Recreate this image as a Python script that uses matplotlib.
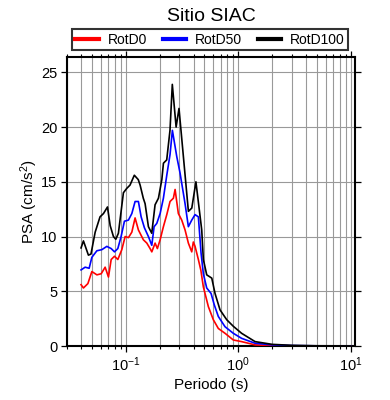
import matplotlib
matplotlib.use('Agg')
from matplotlib import pyplot as plt
from matplotlib.lines import Line2D
import numpy as np

plt.rcParams['font.family'] = ['Liberation Sans', 'DejaVu Sans']
plt.rcParams['mathtext.fontset'] = 'custom'
plt.rcParams['mathtext.rm'] = 'Liberation Sans'
plt.rcParams['mathtext.it'] = 'Liberation Sans'

# periodos (s) y PSA (cm/s^2)
per_d100 = [0.040, 0.042, 0.0465, 0.049, 0.0534, 0.059, 0.0633, 0.0687, 0.0726, 0.0776,
            0.0815, 0.0859, 0.0952, 0.102, 0.109, 0.119, 0.129, 0.134, 0.143, 0.1484,
            0.1588, 0.170, 0.182, 0.195, 0.209, 0.216, 0.231, 0.247, 0.259, 0.280,
            0.297, 0.360, 0.386, 0.420, 0.473, 0.489, 0.524, 0.581, 0.621, 0.688,
            0.789, 0.903, 1.07, 1.41, 2.0, 3.0, 5.0, 10.0]
psa_d100 = [8.96, 9.6, 8.3, 8.4, 10.4, 11.8, 12.1, 12.7, 11.0, 10.0,
            9.75, 10.3, 14.0, 14.4, 14.7, 15.6, 15.2, 14.7, 13.5, 13.0,
            10.9, 10.3, 12.9, 13.5, 15.2, 16.7, 17.0, 19.7, 23.9, 20.0,
            21.7, 12.3, 12.6, 15.0, 10.6, 7.9, 6.5, 6.2, 4.8, 3.3,
            2.4, 1.8, 1.16, 0.4, 0.15, 0.06, 0.02, 0.01]

per_d50 = [0.040, 0.0435, 0.0472, 0.0499, 0.0553, 0.0612, 0.0678, 0.0741, 0.0793, 0.0849,
           0.0908, 0.0972, 0.1055, 0.1131, 0.1209, 0.1294, 0.1368, 0.1463, 0.1588, 0.1702,
           0.1784, 0.1885, 0.2018, 0.2158, 0.2313, 0.2473, 0.2594, 0.2838, 0.3035, 0.3363,
           0.3598, 0.3855, 0.4126, 0.4415, 0.4664, 0.4889, 0.5239, 0.5725, 0.612, 0.664,
           0.762, 0.903, 1.07, 1.41, 2.0, 3.0, 5.0, 10.0]
psa_d50 = [6.95, 7.2, 7.1, 8.1, 8.7, 8.8, 9.1, 8.9, 8.6, 8.9,
           10.0, 11.4, 11.5, 12.1, 13.2, 13.2, 11.8, 10.8, 10.0, 9.2,
           10.9, 11.2, 12.1, 13.5, 15.6, 17.5, 19.7, 17.3, 15.8, 13.0,
           10.9, 11.5, 12.0, 11.8, 8.5, 6.6, 5.3, 4.8, 3.75, 2.7,
           1.76, 1.16, 0.7, 0.25, 0.1, 0.04, 0.015, 0.005]

per_d0 = [0.040, 0.042, 0.046, 0.0499, 0.0553, 0.0604, 0.0655, 0.0701, 0.0741, 0.0793,
          0.0849, 0.0921, 0.0986, 0.1055, 0.1131, 0.1209, 0.1294, 0.1433, 0.1537, 0.1643,
          0.1702, 0.1821, 0.1908, 0.2018, 0.2158, 0.2313, 0.2473, 0.2648, 0.2742, 0.2931,
          0.3142, 0.3363, 0.3598, 0.3855, 0.3983, 0.4126, 0.4415, 0.4650, 0.4889, 0.5416,
          0.5998, 0.6643, 0.762, 0.903, 1.07, 1.41, 2.0, 3.0, 5.0, 10.0]
psa_d0 = [5.6, 5.3, 5.7, 6.8, 6.5, 6.6, 7.2, 6.3, 7.9, 8.2,
          7.9, 8.8, 10.0, 9.9, 10.4, 11.7, 10.6, 9.7, 9.4, 8.9,
          8.6, 9.4, 8.9, 9.7, 10.9, 12.0, 13.2, 13.5, 14.3, 12.1,
          11.5, 10.6, 9.4, 8.6, 9.5, 9.1, 7.9, 6.9, 5.4, 3.6,
          2.4, 1.6, 1.16, 0.55, 0.4, 0.1, 0.04, 0.015, 0.008, 0.004]

fig = plt.figure(figsize=(3.9, 4.0), dpi=100)
ax = fig.add_axes([67/390, 1-346/400, (355-67)/390, (346-57)/400])

ax.plot(per_d0, psa_d0, color='red', lw=1.2, zorder=3)
ax.plot(per_d50, psa_d50, color='blue', lw=1.2, zorder=4)
ax.plot(per_d100, psa_d100, color='black', lw=1.2, zorder=5)

ax.set_xscale('log')
ax.set_xlim(0.03, 10.9)
ax.set_ylim(0, 26.4)
ax.set_yticks([0, 5, 10, 15, 20, 25])

ax.grid(True, which='both', axis='x', color='#999999', lw=0.8)
ax.grid(True, which='major', axis='y', color='#999999', lw=0.8)
ax.set_axisbelow(True)

ax.tick_params(which='major', direction='out', length=4.3, width=0.9,
               top=True, right=True, labelsize=10.5, pad=2.5, colors='black')
ax.tick_params(which='minor', direction='out', length=2.2, width=0.8,
               top=True, right=False, left=False)
ax.tick_params(axis='y', which='minor', left=False, right=False)
for s in ax.spines.values():
    s.set_linewidth(1.5)

ax.set_xlabel('Periodo (s)', fontsize=11, labelpad=3)
ax.set_ylabel('PSA (cm/s$^2$)', fontsize=11, labelpad=1)

fig.text(211/390, 1-21/400, 'Sitio SIAC', fontsize=14, ha='center', va='baseline')

handles = [Line2D([], [], color='red', lw=3),
           Line2D([], [], color='blue', lw=3),
           Line2D([], [], color='black', lw=3)]
leg = fig.legend(handles, ['RotD0', 'RotD50', 'RotD100'], ncol=3,
                 loc='lower left', mode='expand',
                 bbox_to_anchor=(72/390, 1-50/400, (348-72)/390, 21/400),
                 fontsize=10, frameon=True, fancybox=False, borderpad=0.25,
                 handlelength=1.7, handletextpad=0.6, columnspacing=0.8,
                 borderaxespad=0)
leg.get_frame().set_edgecolor('black')
leg.get_frame().set_linewidth(1.5)

fig.savefig('out.png', dpi=100)
